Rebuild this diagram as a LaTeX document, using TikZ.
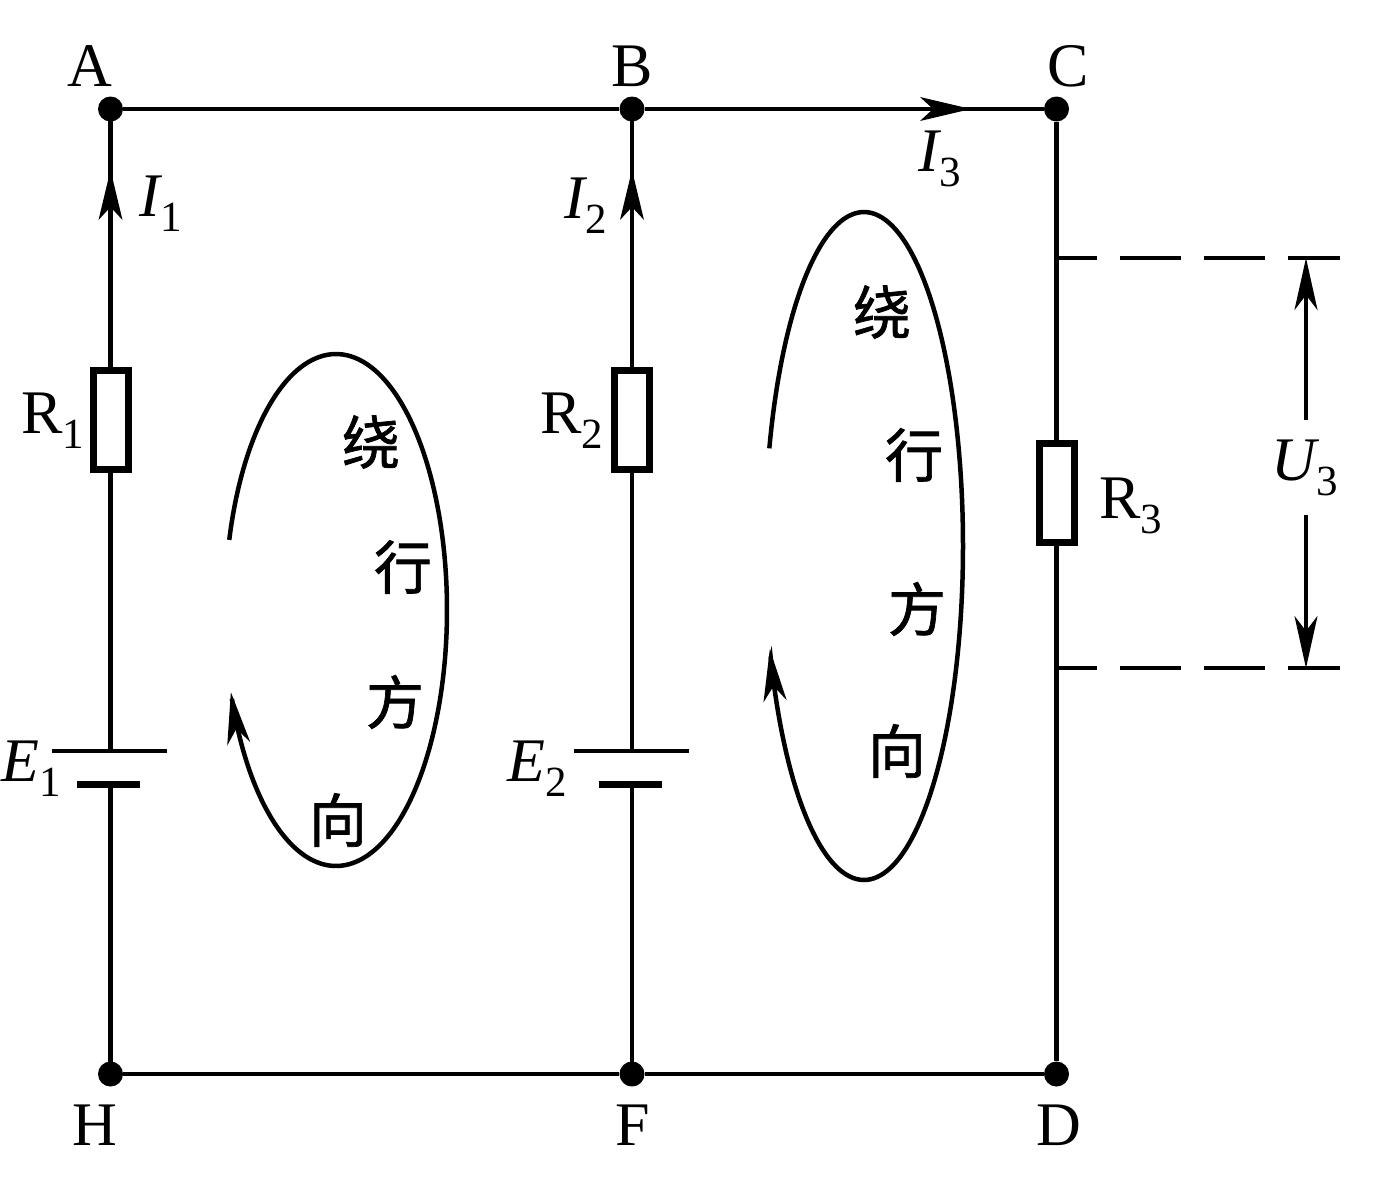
\documentclass[tikz,border=0pt]{standalone}
\usepackage{fontspec}
\setmainfont{Liberation Serif}
\newfontfamily\cjk[FakeBold=1.2]{Noto Sans CJK SC}
\usetikzlibrary{arrows.meta}
\newcommand{\sbs}[1]{\raisebox{-0.24em}{\fontsize{43}{43}\selectfont\upshape #1}}
\tikzset{
  wire/.style={line width=4.5pt,black},
  dot/.style={circle,fill=black,draw=none,minimum size=25pt,inner sep=0pt},
  res/.style={draw=black,line width=7pt,fill=white,minimum width=35pt,minimum height=99pt,inner sep=0pt},
  lab/.style={font=\fontsize{62}{62}\selectfont,inner sep=0pt},
  han/.style={font=\fontsize{58}{58}\selectfont\cjk,inner sep=0pt},
  tip/.style={-{Stealth[length=52pt,width=23pt,inset=15pt]}},
  loopline/.style={line width=4.5pt,black},
  dashln/.style={line width=3.5pt,dash pattern=on 61pt off 23pt,dash phase=21pt},
}
\begin{document}
\begin{tikzpicture}[x=1pt,y=-1pt]
\useasboundingbox (0,0) rectangle (1376,1181);
\node[dot] (A) at (110.5,109) {};
\node[dot] (B) at (632,109) {};
\node[dot] (C) at (1056.5,109) {};
\node[dot] (H) at (110.5,1074) {};
\node[dot] (F) at (632,1074) {};
\node[dot] (D) at (1056.5,1074) {};
\node[res] (R1) at (110.5,419.5) {};
\node[res] (R2) at (632,419.5) {};
\node[res] (R3) at (1056.5,493) {};
\coordinate (E1t) at (110.5,751);
\coordinate (E1b) at (110.5,784);
\coordinate (E2t) at (632,751);
\coordinate (E2b) at (632,784);
\coordinate (I1t) at (110.5,170);
\coordinate (I2t) at (632,170);
\coordinate (I3t) at (971,109);
% wires
\draw[wire] (A) -- (B) -- (C) -- (R3) -- (D) -- (F) -- (H);
\draw[wire] (A.center) -- (R1.north);
\draw[wire] (R1.south) -- (E1t);
\draw[wire] (E1b) -- (H.center);
\draw[wire] (B.center) -- (R2.north);
\draw[wire] (R2.south) -- (E2t);
\draw[wire] (E2b) -- (F.center);
% batteries
\draw[line width=3.5pt] (52,751) -- (E1t) -- (167,751);
\draw[line width=7pt] (77,784) -- (E1b) -- (140,784);
\draw[line width=3.5pt] (574,751) -- (E2t) -- (689,751);
\draw[line width=7pt] (599,784) -- (E2b) -- (662,784);
% current arrows
\fill (I1t) -- (122.5,220) -- (110.5,207) -- (98.5,220) -- cycle;
\fill (I2t) -- (644,220) -- (632,207) -- (620,220) -- cycle;
\fill (I3t) -- (920,97) -- (933,109) -- (920,121) -- cycle;
% dimension
\coordinate (Ut) at (1306,258);
\coordinate (Ub) at (1306,668);
\coordinate (Uu) at (1306,420);
\coordinate (Ul) at (1306,515);
\coordinate (d1) at (1056.5,258);
\coordinate (d2) at (1340,258);
\coordinate (d3) at (1056.5,668);
\coordinate (d4) at (1340,668);
\draw[dashln] (d1) -- (d2);
\draw[dashln] (d3) -- (d4);
\draw[line width=3.5pt,tip] (Uu) -- (Ut);
\draw[line width=3.5pt,tip] (Ul) -- (Ub);
% loops
\draw[loopline,tip] plot[domain=195.9:521.3,samples=160,smooth] ({336+111*cos(\x)},{610+256*sin(\x)});
\draw[loopline,tip] plot[domain=197:522,samples=160,smooth] ({864+99*cos(\x)},{546+334*sin(\x)});
% labels
\node[lab] (lA) at (90,66) {A};
\node[lab] (lB) at (632,66) {B};
\node[lab] (lC) at (1068,66) {C};
\node[lab] (lH) at (95,1125) {H};
\node[lab] (lF) at (633,1125) {F};
\node[lab] (lD) at (1059,1125) {D};
\node[lab] (lI1) at (161,204) {\itshape I\sbs{1}};
\node[lab] (lI2) at (586,206) {\itshape I\sbs{2}};
\node[lab] (lI3) at (940,159) {\itshape I\sbs{3}};
\node[lab] (lR1) at (53,421) {R\sbs{1}};
\node[lab] (lR2) at (572,421) {R\sbs{2}};
\node[lab] (lR3) at (1131,506) {R\sbs{3}};
\node[lab] (lE1) at (31,769) {\itshape E\sbs{1}};
\node[lab] (lE2) at (537,769) {\itshape E\sbs{2}};
\node[lab] (lU3) at (1305,468) {\itshape U\sbs{3}};
\node[han] (h1) at (371,442) {绕};
\node[han] (h2) at (403,567) {行};
\node[han] (h3) at (395,702) {方};
\node[han] (h4) at (338,820) {向};
\node[han] (h5) at (882,312) {绕};
\node[han] (h6) at (914,455) {行};
\node[han] (h7) at (917,609) {方};
\node[han] (h8) at (897,751) {向};
\end{tikzpicture}
\end{document}
